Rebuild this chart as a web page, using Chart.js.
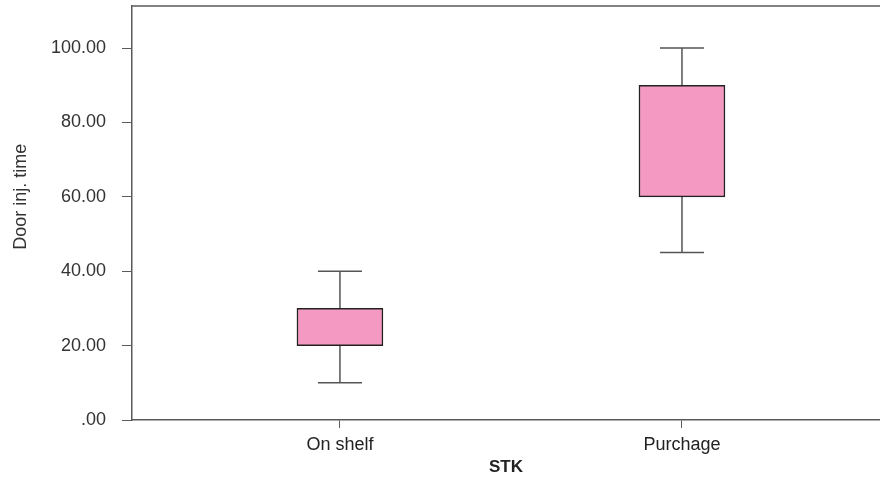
<!DOCTYPE html>
<html>
<head>
<meta charset="utf-8">
<script src="https://cdn.jsdelivr.net/npm/chart.js@4.4.1/dist/chart.umd.min.js"></script>
<style>
  html, body { margin: 0; padding: 0; background: #fff; }
  #wrap { width: 880px; height: 482px; }
</style>
</head>
<body>
<div id="wrap"><canvas id="chart" width="880" height="482"></canvas></div>
<script>
// box plot values per category
const categories = ["On shelf", "Purchage"];
const whiskerLow = [10, 45];
const q1 = [20, 60];
const q3 = [30, 90];
const whiskerHigh = [40, 100];
const yTicks = [0, 20, 40, 60, 80, 100];
const yTitle = "Door inj. time";

const FONT = "'Liberation Sans', Arial, sans-serif";
const AXIS = "#5a5a5a";

// whiskers, top frame line and the y title (sits a bit above axis centre)
const boxExtras = {
  id: "boxExtras",
  beforeDatasetsDraw(chart) {
    const { ctx, chartArea, scales: { x, y } } = chart;
    ctx.save();
    ctx.strokeStyle = "#555";
    ctx.lineWidth = 1.5;
    categories.forEach((c, i) => {
      const px = x.getPixelForValue(i);
      const half = 22;
      ctx.beginPath();
      ctx.moveTo(px, y.getPixelForValue(whiskerLow[i]));
      ctx.lineTo(px, y.getPixelForValue(q1[i]));
      ctx.moveTo(px, y.getPixelForValue(q3[i]));
      ctx.lineTo(px, y.getPixelForValue(whiskerHigh[i]));
      ctx.moveTo(px - half, y.getPixelForValue(whiskerLow[i]));
      ctx.lineTo(px + half, y.getPixelForValue(whiskerLow[i]));
      ctx.moveTo(px - half, y.getPixelForValue(whiskerHigh[i]));
      ctx.lineTo(px + half, y.getPixelForValue(whiskerHigh[i]));
      ctx.stroke();
    });
    ctx.strokeStyle = AXIS;
    ctx.beginPath();
    ctx.moveTo(chartArea.left, chartArea.top);
    ctx.lineTo(chartArea.right, chartArea.top);
    ctx.stroke();

    ctx.translate(21, y.getPixelForValue(60));
    ctx.rotate(-Math.PI / 2);
    ctx.fillStyle = "#333";
    ctx.font = "18px " + FONT;
    ctx.textAlign = "center";
    ctx.textBaseline = "middle";
    ctx.fillText(yTitle, 0, 0);
    ctx.restore();
  }
};

new Chart(document.getElementById("chart"), {
  type: "bar",
  data: {
    datasets: [{
      data: categories.map((c, i) => ({ x: i, y: [q1[i], q3[i]] })),
      backgroundColor: "#f49ac2",
      borderColor: "#222",
      borderWidth: 1.5,
      borderSkipped: false,
      barThickness: 86
    }]
  },
  options: {
    responsive: false,
    animation: false,
    layout: { padding: { left: 0, right: 0, top: 6, bottom: 0 } },
    plugins: { legend: { display: false }, tooltip: { enabled: false } },
    scales: {
      x: {
        type: "linear",
        offset: false,
        min: -0.608,
        max: 1.579,
        afterBuildTicks: (s) => { s.ticks = categories.map((c, i) => ({ value: i })); },
        afterFit: (s) => { s.height = 62; s.paddingLeft = 0; s.paddingRight = 0; },
        ticks: {
          callback: (v) => categories[v],
          color: "#222",
          font: { family: FONT, size: 18 },
          padding: 6
        },
        grid: { offset: false, drawOnChartArea: false, drawTicks: true, tickLength: 8, color: AXIS },
        border: { display: true, color: AXIS, width: 1.5 },
        title: {
          display: true,
          text: "STK",
          color: "#222",
          font: { family: FONT, size: 17, weight: "bold" },
          padding: { top: 0, bottom: 4 }
        }
      },
      y: {
        min: 0,
        max: 111.3,
        afterBuildTicks: (s) => { s.ticks = yTicks.map((v) => ({ value: v })); },
        afterFit: (s) => { s.width = 132; s.paddingTop = 0; s.paddingBottom = 0; },
        ticks: {
          callback: (v) => (v === 0 ? ".00" : v.toFixed(2)),
          color: "#333",
          font: { family: FONT, size: 18 },
          padding: 16
        },
        grid: { drawOnChartArea: false, drawTicks: true, tickLength: 10, color: AXIS },
        border: { display: true, color: AXIS, width: 1.5 }
      }
    }
  },
  plugins: [boxExtras]
});
</script>
</body>
</html>
